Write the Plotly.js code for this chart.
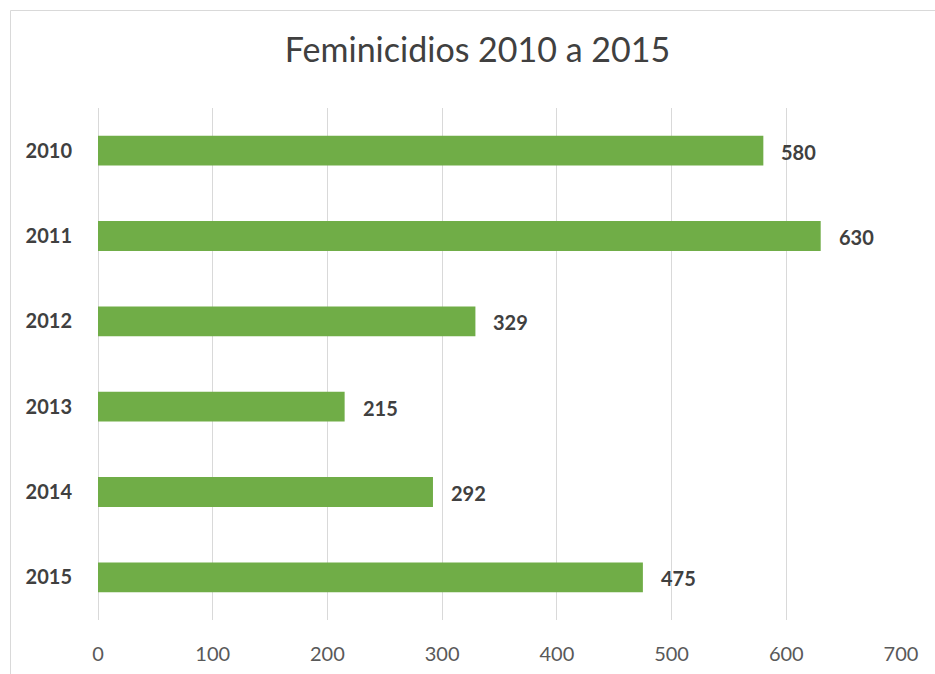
<!DOCTYPE html>
<html><head><meta charset="utf-8">
<script src="https://cdn.plot.ly/plotly-3.0.1.min.js"></script>
<style>html,body{margin:0;padding:0;background:#fff}#c{width:935px;height:674px}</style>
</head><body><div id="c"></div>
<script>
const years = ['2010','2011','2012','2013','2014','2015'];
const values = [580, 630, 329, 215, 292, 475];
const xTicks = [0,100,200,300,400,500,600,700];

const L = 98, R = 34, T = 108, B = 54, W = 935, H = 674;
const pw = W - L - R, ph = H - T - B;
const px = v => (v - L) / pw;
const py = v => 1 - (v - T) / ph;
const FONT = 'Lato, Open Sans, sans-serif';

const trace = {
  type: 'bar', orientation: 'h', y: years, x: values,
  marker: {color: '#70AD47', line: {width: 0}},
  width: 0.35, hoverinfo: 'none'
};

const annotations = years.map((y, i) => ({
  x: values[i], y: i, xref: 'x', yref: 'y', text: '<b>' + values[i] + '</b>',
  showarrow: false, xanchor: 'left', yanchor: 'middle', xshift: 16, yshift: -1,
  font: {family: FONT, size: 20, color: '#404040'}
}));

const layout = {
  width: W, height: H,
  margin: {l: L, r: R, t: T, b: B},
  paper_bgcolor: '#fff', plot_bgcolor: '#fff',
  showlegend: false,
  title: {text: 'Feminicidios 2010 a 2015', x: 0.5107, xanchor: 'center', y: 0.926, yanchor: 'middle',
    font: {family: FONT, size: 34, color: '#404040'}},
  xaxis: {range: [0, 700], tickvals: xTicks, ticktext: xTicks.map(String), showgrid: true,
    gridcolor: '#d9d9d9', gridwidth: 1, zeroline: true, zerolinecolor: '#d9d9d9', zerolinewidth: 1, showline: false,
    ticks: 'outside', ticklen: 16, tickcolor: 'rgba(0,0,0,0)',
    tickfont: {family: FONT, size: 20, color: '#595959'}, fixedrange: true},
  yaxis: {type: 'category', categoryorder: 'array', categoryarray: years, range: [5.5, -0.5], autorange: false,
    showgrid: false, zeroline: false, showline: false,
    ticks: 'outside', ticklen: 21, tickcolor: 'rgba(0,0,0,0)',
    tickfont: {family: FONT, size: 20, color: '#404040', weight: 'bold'}, fixedrange: true},
  annotations: annotations,
  shapes: [{type: 'rect', xref: 'paper', yref: 'paper', x0: px(10.5), x1: px(960), y0: py(10.5), y1: py(700),
    line: {color: '#d9d9d9', width: 1}, fillcolor: 'rgba(0,0,0,0)', layer: 'below'}]
};
Plotly.newPlot('c', [trace], layout, {staticPlot: true, displayModeBar: false});
</script></body></html>
